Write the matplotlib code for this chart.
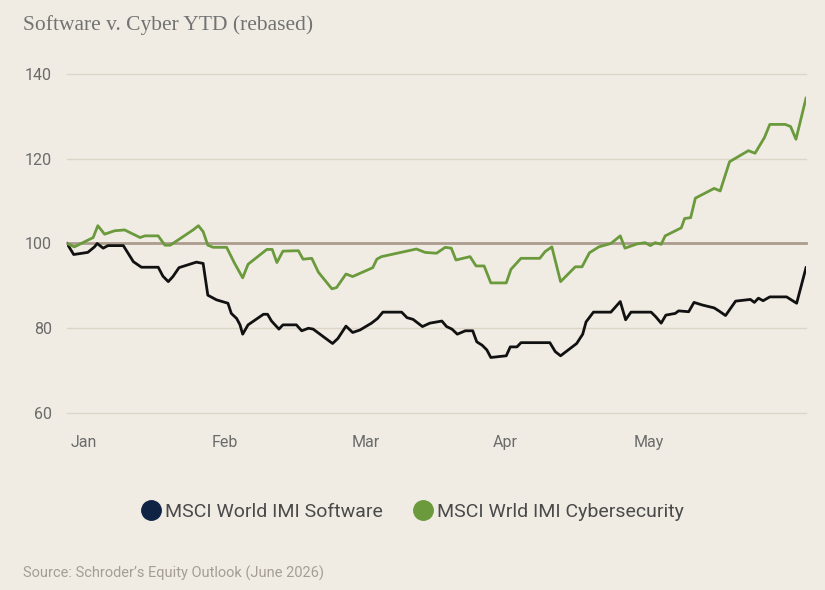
import matplotlib.pyplot as plt
from matplotlib.lines import Line2D

# trading-day index (0 = first day of Jan) and rebased values
soft_days = [0, 1.0, 3.1, 4.1, 4.5, 5.4, 6.1, 8.4, 9.9, 11.1, 13.6, 14.3, 15.1, 15.8, 16.7,
             19.3, 20.3, 21.0, 22.3, 24.0, 24.5, 25.3, 25.8, 26.2, 27.0, 29.3, 29.9, 30.5,
             31.6, 32.2, 34.2, 35.0, 36.0, 36.7, 39.6, 40.4, 41.6, 42.6, 43.7, 45.4, 46.3,
             47.1, 49.9, 50.7, 51.6, 53.0, 54.1, 55.9, 56.6, 57.4, 58.2, 59.4, 60.5, 61.1,
             61.9, 62.6, 63.2, 65.5, 66.1, 67.1, 67.7, 72.0, 72.8, 73.6, 76.0, 76.9, 77.4,
             78.5, 81.1, 82.5, 83.3, 84.1, 87.1, 87.8, 88.6, 89.3, 90.7, 91.2, 92.7, 93.5,
             94.7, 96.5, 97.2, 98.2, 99.7, 101.9, 102.5, 103.1, 103.8, 104.8, 107.3, 108.8,
             110.2]
soft_vals = [100, 97.4, 97.9, 99.2, 100, 98.9, 99.5, 99.5, 95.7, 94.4, 94.4, 92.3, 91, 92.2,
             94.3, 95.6, 95.3, 87.8, 86.7, 85.9, 83.5, 82.3, 80.8, 78.6, 80.8, 83.3, 83.3,
             81.7, 79.8, 80.8, 80.8, 79.4, 80, 79.8, 76.4, 77.6, 80.5, 79, 79.6, 81.2, 82.3,
             83.8, 83.8, 82.5, 82.1, 80.4, 81.2, 81.7, 80.4, 79.8, 78.6, 79.4, 79.4, 76.8,
             76, 74.9, 73.1, 73.5, 75.6, 75.6, 76.6, 76.6, 74.5, 73.5, 76.4, 78.6, 81.5,
             83.8, 83.8, 86.3, 82, 83.8, 83.8, 82.7, 81.2, 83.1, 83.5, 84.1, 83.9, 86.1,
             85.5, 84.8, 84.1, 83, 86.4, 86.8, 86.1, 87.1, 86.5, 87.4, 87.4, 85.9, 94.3]

cyber_days = [0, 1.1, 3.9, 4.6, 5.6, 7.1, 8.6, 10.9, 11.6, 13.6, 14.6, 15.4, 18.8, 19.6, 20.3,
              21.0, 21.8, 23.8, 25.0, 26.2, 27.0, 29.8, 30.6, 31.3, 32.2, 34.5, 35.2, 36.5,
              37.5, 39.5, 40.2, 41.6, 42.6, 45.6, 46.2, 46.9, 52.1, 53.4, 55.1, 56.4, 57.3,
              58.0, 60.1, 61.0, 62.2, 63.2, 65.5, 66.2, 67.7, 70.5, 71.3, 72.3, 73.6, 75.8,
              76.8, 77.9, 79.3, 81.1, 82.5, 83.2, 85.0, 86.2, 87.0, 87.7, 88.6, 89.2, 91.6,
              92.1, 93.0, 93.7, 96.5, 97.4, 98.8, 101.6, 102.6, 104.0, 104.8, 107.1, 107.9,
              108.7, 110.2]
cyber_vals = [100, 99.2, 101.4, 104.2, 102.2, 103, 103.2, 101.4, 101.8, 101.8, 99.6, 99.6,
              103.2, 104.2, 102.8, 99.6, 99.1, 99.1, 95.3, 91.9, 95.1, 98.6, 98.6, 95.5, 98.2,
              98.3, 96.3, 96.5, 93.2, 89.3, 89.6, 92.8, 92.2, 94.3, 96.3, 96.9, 98.7, 97.9,
              97.7, 99.1, 98.9, 96.1, 96.9, 94.7, 94.7, 90.7, 90.7, 93.9, 96.5, 96.5, 98.1,
              99.2, 91, 94.5, 94.5, 97.8, 99.2, 100, 101.8, 98.9, 99.9, 100.2, 99.5, 100.2,
              99.8, 101.8, 103.7, 105.9, 106.1, 110.7, 113, 112.4, 119.3, 121.9, 121.3, 125,
              128.1, 128.1, 127.6, 124.6, 134.3]

month_labels = ['Jan', 'Feb', 'Mar', 'Apr', 'May']
month_days = [0.5, 21.5, 42.5, 63.5, 84.5]
y_ticks = [60, 80, 100, 120, 140]

bg = '#f0ece4'
green = '#6a9a3c'
navy = '#0f2444'

fig = plt.figure(figsize=(8.25, 5.9), dpi=100, facecolor=bg)
ax = fig.add_axes([0.0812, 0.30, 0.8958, 0.5746], facecolor=bg)

for t in y_ticks:
    if t == 100:
        ax.axhline(t, color='#ab9c8d', lw=2, zorder=2, clip_on=False)
    else:
        ax.axhline(t, color='#ddd6c7', lw=1, zorder=1, clip_on=False)

ax.plot(soft_days, soft_vals, color='#111111', lw=2, zorder=3)
ax.plot(cyber_days, cyber_vals, color=green, lw=2, zorder=3)

ax.set_xlim(0, 110.2)
ax.set_ylim(60, 140)
ax.set_yticks(y_ticks)
ax.set_yticklabels([str(t) for t in y_ticks], fontsize=11.5, color='#6b6b6b', family='Roboto')
ax.set_xticks(month_days)
ax.set_xticklabels(month_labels, fontsize=11.5, color='#6b6b6b', family='Roboto', ha='left')
ax.tick_params(length=0, axis='y', pad=11)
ax.tick_params(length=0, axis='x', pad=16)
for s in ax.spines.values():
    s.set_visible(False)

fig.text(0.028, 0.975, 'Software v. Cyber YTD (rebased)', fontsize=15.5, family='Liberation Serif',
         color='#727272', va='top', ha='left')

handles = [Line2D([], [], marker='o', ls='', markersize=14, color=navy),
           Line2D([], [], marker='o', ls='', markersize=14, color=green)]
fig.legend(handles, ['MSCI World IMI Software', 'MSCI Wrld IMI Cybersecurity'],
           loc='center', bbox_to_anchor=(0.5, 0.133), ncol=2, frameon=False,
           prop={'family': 'Roboto', 'size': 14}, labelcolor='#4a4a4a',
           handletextpad=0.2, columnspacing=1.6, handlelength=1.0)

fig.text(0.028, 0.015, 'Source: Schroder\u2019s Equity Outlook (June 2026)', fontsize=10.5,
         family='Roboto', color='#a39d95', ha='left', va='bottom')

fig.savefig('out.png', dpi=100, facecolor=bg)
